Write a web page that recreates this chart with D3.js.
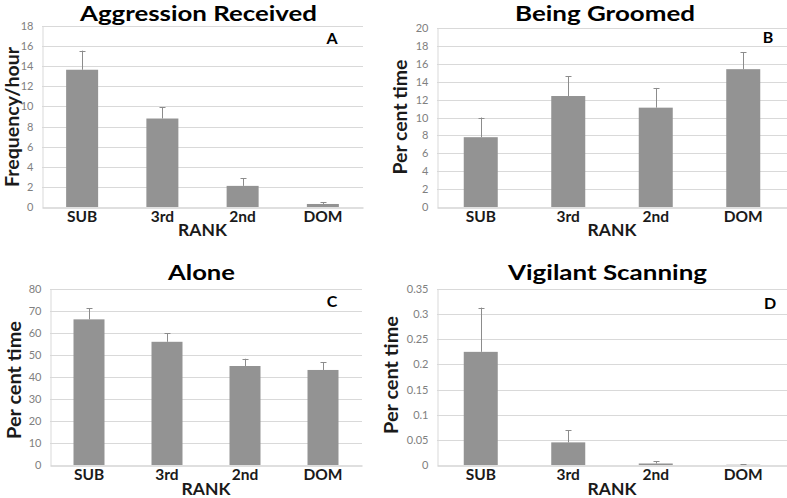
<!DOCTYPE html>
<html><head><meta charset="utf-8">
<script src="https://cdn.jsdelivr.net/npm/d3@7"></script>
<style>
html,body{margin:0;padding:0;background:#fff;}
svg{display:block;font-family:Lato,"Open Sans",sans-serif;}
</style></head>
<body><svg id="c" width="787" height="498"></svg>
<script>
const categories = ["SUB","3rd","2nd","DOM"];
const aggressionMean = [13.65, 8.8, 2.1, 0.3];
const aggressionUpper = [15.55, 9.9, 2.85, 0.45];
const groomedMean = [7.8, 12.4, 11.1, 15.4];
const groomedUpper = [10.0, 14.6, 13.3, 17.3];
const aloneMean = [66.2, 56.0, 45.0, 43.2];
const aloneUpper = [71.2, 60.0, 48.3, 46.6];
const vigilantMean = [0.225, 0.045, 0.003, 0.0005];
const vigilantUpper = [0.313, 0.069, 0.007, 0.001];
const ticksA = [0,2,4,6,8,10,12,14,16,18];
const ticksB = [0,2,4,6,8,10,12,14,16,18,20];
const ticksC = [0,10,20,30,40,50,60,70,80];
const ticksD = [0,0.05,0.1,0.15,0.2,0.25,0.3,0.35];

const panels = [
  {title:"Aggression Received", letter:"A", ylabel:"Frequency/hour", mean:aggressionMean, upper:aggressionUpper, ticks:ticksA, max:18,
   x0:42, x1:363, yTop:26, yBot:207, titleX:198.5, titleY:21, titleW:237, letX:332, letY:44, ylabX:12, ylabY:117, ylabW:140, xlabY:222, rankY:236, barW:32},
  {title:"Being Groomed", letter:"B", ylabel:"Per cent time", mean:groomedMean, upper:groomedUpper, ticks:ticksB, max:20,
   x0:437, x1:787, yTop:28, yBot:207, titleX:605, titleY:21, titleW:180, letX:768, letY:43, ylabX:400, ylabY:117, ylabW:115, xlabY:222, rankY:236, barW:34},
  {title:"Alone", letter:"C", ylabel:"Per cent time", mean:aloneMean, upper:aloneUpper, ticks:ticksC, max:80,
   x0:50, x1:362, yTop:289, yBot:465, titleX:201.5, titleY:280, titleW:67, letX:332, letY:307, ylabX:14, ylabY:380, ylabW:118, xlabY:480, rankY:495, barW:31},
  {title:"Vigilant Scanning", letter:"D", ylabel:"Per cent time", mean:vigilantMean, upper:vigilantUpper, ticks:ticksD, max:0.35,
   x0:437, x1:787, yTop:289, yBot:465, titleX:607.5, titleY:280, titleW:199, letX:770, letY:309, ylabX:391, ylabY:375, ylabW:118, xlabY:480, rankY:495, barW:34}
];

const svg = d3.select("#c");
panels.forEach(p => {
  const x = d3.scaleBand().domain(categories).range([p.x0, p.x1]);
  const y = d3.scaleLinear().domain([0, p.max]).range([p.yBot, p.yTop]);
  const g = svg.append("g");
  // gridlines
  g.append("g").selectAll("line").data(p.ticks.slice(1)).join("line")
    .attr("x1", p.x0).attr("x2", p.x1)
    .attr("y1", d => Math.round(y(d))+0.5).attr("y2", d => Math.round(y(d))+0.5)
    .attr("stroke", "#d9d9d9").attr("stroke-width", 1);
  // y axis
  const ya = g.append("g").attr("transform", `translate(${p.x0+0.5},0)`)
    .call(d3.axisLeft(y).tickValues(p.ticks).tickSize(0).tickPadding(9).tickFormat(d => d));
  ya.select(".domain").attr("stroke", "#d9d9d9");
  ya.selectAll("text").attr("fill", "#808080").attr("font-size", 11).attr("font-family", "Lato, sans-serif");
  // bars
  g.append("g").selectAll("rect").data(categories).join("rect")
    .attr("x", (d) => x(d) + x.bandwidth()/2 - p.barW/2)
    .attr("width", p.barW)
    .attr("y", (d,i) => y(p.mean[i]))
    .attr("height", (d,i) => p.yBot - y(p.mean[i]))
    .attr("fill", "#939393");
  // error bars (upper only)
  const eb = g.append("g").attr("stroke", "#8c8c8c").attr("stroke-width", 1);
  categories.forEach((c,i) => {
    const cx = Math.round(x(c) + x.bandwidth()/2) + 0.5;
    eb.append("line").attr("x1", cx).attr("x2", cx).attr("y1", y(p.mean[i])).attr("y2", y(p.upper[i]));
    eb.append("line").attr("x1", cx-3).attr("x2", cx+3).attr("y1", Math.round(y(p.upper[i]))+0.5).attr("y2", Math.round(y(p.upper[i]))+0.5);
  });
  // x axis line
  const xa = g.append("g").attr("transform", `translate(0,${p.yBot+0.5})`)
    .call(d3.axisBottom(x).tickSize(0).tickFormat(""));
  xa.select(".domain").attr("stroke", "#bfbfbf");
  // category labels
  g.append("g").selectAll("text").data(categories).join("text")
    .attr("x", d => x(d) + x.bandwidth()/2).attr("y", p.xlabY)
    .attr("text-anchor", "middle").attr("font-size", 15.5).attr("font-weight", 700)
    .attr("fill", "#1a1a1a").text(d => d);
  g.append("text").attr("x", (p.x0+p.x1)/2).attr("y", p.rankY)
    .attr("text-anchor", "middle").attr("font-size", 17.5).attr("font-weight", 700).attr("fill", "#1a1a1a").text("RANK");
  // title
  g.append("text").attr("x", p.titleX).attr("y", p.titleY).attr("text-anchor", "middle")
    .attr("font-size", 21).attr("font-weight", 700).attr("fill", "#000")
    .attr("textLength", p.titleW).attr("lengthAdjust", "spacingAndGlyphs").text(p.title);
  // letter
  g.append("text").attr("x", p.letX).attr("y", p.letY).attr("text-anchor", "middle")
    .attr("font-size", 16).attr("font-weight", 700).attr("fill", "#000").text(p.letter);
  // y label
  g.append("text").attr("transform", `translate(${p.ylabX},${p.ylabY}) rotate(-90)`)
    .attr("text-anchor", "middle").attr("dy", "0.35em").attr("font-size", 19).attr("font-weight", 700)
    .attr("fill", "#1a1a1a").attr("textLength", p.ylabW).attr("lengthAdjust", "spacingAndGlyphs").text(p.ylabel);
});
</script></body></html>
